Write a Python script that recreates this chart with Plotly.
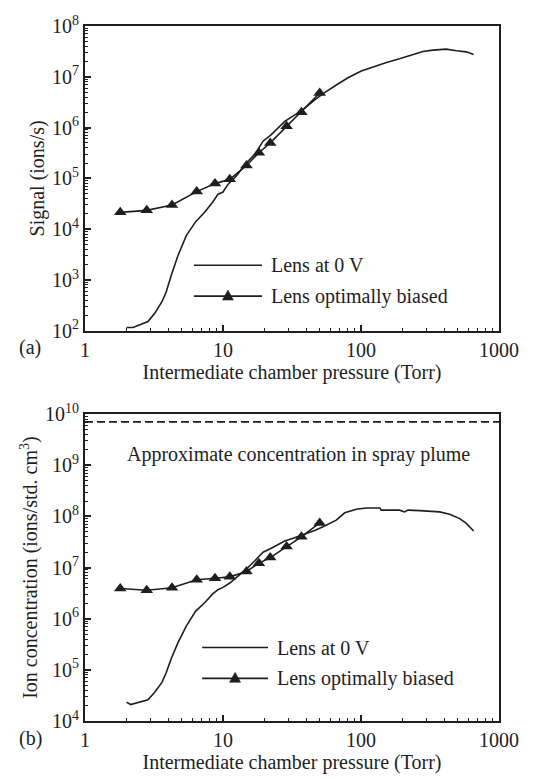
import plotly.graph_objects as go

# ---------------- data ----------------
# Panel (a): Signal (ions/s)
a0_x = [2.0, 2.23, 2.86, 3.2, 3.61, 3.88, 4.22, 4.72, 5.42, 6.34, 7.36, 8.46, 9.2, 10.0, 10.9,
        12.5, 14.8, 17.0, 19.5, 22.4, 28.0, 32.2, 38.0, 46.2, 54.5, 66.2, 80.5, 100.5, 122,
        153, 190, 238, 281, 332, 415, 491, 580, 655]
a0_y = [116, 116, 152, 221, 374, 587, 1240, 3050, 7500, 1.41e4, 2.15e4, 3.47e4, 4.9e4, 5.4e4,
        7.7e4, 1.12e5, 2.04e5, 2.97e5, 5.4e5, 7.3e5, 1.33e6, 1.72e6, 2.25e6, 3.53e6, 4.9e6,
        6.9e6, 9.6e6, 1.3e7, 1.58e7, 1.92e7, 2.26e7, 2.75e7, 3.15e7, 3.35e7, 3.5e7, 3.25e7,
        3.1e7, 2.75e7]

bias_x = [1.80, 2.80, 4.27, 6.45, 8.75, 11.2, 14.8, 18.2, 22.0, 28.9, 37.0, 50.2]
a_bias_y = [2.15e4, 2.35e4, 3.0e4, 5.5e4, 7.9e4, 9.6e4, 1.8e5, 3.2e5, 5.0e5, 1.06e6, 2.0e6, 4.8e6]

# Panel (b): Ion concentration (ions/std. cm3)
b0_x = [2.0, 2.14, 2.86, 3.2, 3.61, 3.88, 4.22, 4.72, 5.42, 6.34, 7.36, 8.46, 9.2, 10.0, 11.2,
        12.7, 14.8, 17.0, 19.5, 22.4, 28.0, 32.2, 38.0, 46.2, 54.5, 66.2, 76.2, 92.5, 109,
        137, 140, 190, 207, 219, 266, 371, 439, 519, 580, 655]
b0_y = [2.34e4, 2.1e4, 2.6e4, 3.66e4, 5.7e4, 8.9e4, 1.67e5, 3.42e5, 7.2e5, 1.41e6, 2.05e6,
        3.1e6, 3.7e6, 4.1e6, 5.0e6, 6.7e6, 9.4e6, 1.36e7, 2.0e7, 2.4e7, 3.3e7, 3.74e7, 4.35e7,
        5.3e7, 6.5e7, 8.5e7, 1.18e8, 1.39e8, 1.47e8, 1.47e8, 1.33e8, 1.33e8, 1.23e8, 1.33e8,
        1.30e8, 1.23e8, 1.11e8, 9.1e7, 7.3e7, 5.2e7]
b_bias_y = [3.9e6, 3.6e6, 4.05e6, 5.8e6, 6.2e6, 6.6e6, 8.4e6, 1.22e7, 1.57e7, 2.58e7, 4.0e7, 7.5e7]

plume_x = [1, 1000]
plume_y = [7.1e9, 7.1e9]

x_tickvals = [1, 10, 100, 1000]
x_ticktext = ["1", "10", "100", "1000"]
a_tickvals = [1e2, 1e3, 1e4, 1e5, 1e6, 1e7, 1e8]
a_ticktext = ["10<sup>2</sup>", "10<sup>3</sup>", "10<sup>4</sup>", "10<sup>5</sup>",
              "10<sup>6</sup>", "10<sup>7</sup>", "10<sup>8</sup>"]
b_tickvals = [1e4, 1e5, 1e6, 1e7, 1e8, 1e9, 1e10]
b_ticktext = ["10<sup>4</sup>", "10<sup>5</sup>", "10<sup>6</sup>", "10<sup>7</sup>",
              "10<sup>8</sup>", "10<sup>9</sup>", "10<sup>10</sup>"]

legend_labels = ["Lens at 0 V", "Lens optimally biased"]


def minor_ticks(lo_exp, hi_exp):
    return [m * 10 ** e for e in range(lo_exp, hi_exp) for m in range(2, 10)]


# ---------------- styling ----------------
INK = "#1e1e1e"
FONT = "Liberation Serif, Times New Roman, serif"
LW = 1.6

fig = go.Figure()

# Panel (a)
fig.add_trace(go.Scatter(x=a0_x, y=a0_y, mode="lines", line=dict(color=INK, width=LW),
                         xaxis="x", yaxis="y", showlegend=False))
fig.add_trace(go.Scatter(x=bias_x, y=a_bias_y, mode="lines+markers",
                         line=dict(color=INK, width=LW),
                         marker=dict(symbol="triangle-up", size=11, color=INK),
                         xaxis="x", yaxis="y", showlegend=False))
# Panel (b)
fig.add_trace(go.Scatter(x=plume_x, y=plume_y, mode="lines",
                         line=dict(color=INK, width=LW, dash="8px,4px"),
                         xaxis="x2", yaxis="y2", showlegend=False))
fig.add_trace(go.Scatter(x=b0_x, y=b0_y, mode="lines", line=dict(color=INK, width=LW),
                         xaxis="x2", yaxis="y2", showlegend=False))
fig.add_trace(go.Scatter(x=bias_x, y=b_bias_y, mode="lines+markers",
                         line=dict(color=INK, width=LW),
                         marker=dict(symbol="triangle-up", size=11, color=INK),
                         xaxis="x2", yaxis="y2", showlegend=False))


def axis_common(lo, hi):
    return dict(
        type="log", showgrid=False, zeroline=False,
        showline=True, linecolor=INK, linewidth=1.8, mirror=True,
        ticks="inside", ticklen=6, tickwidth=1.6, tickcolor=INK,
        tickfont=dict(family=FONT, size=20, color=INK),
        minor=dict(ticks="inside", ticklen=3, tickwidth=1.1, tickcolor=INK, showgrid=False,
                   tickmode="array", tickvals=minor_ticks(lo, hi)),
    )


title_font = dict(family=FONT, size=20, color=INK)

fig.update_layout(
    width=547, height=781,
    paper_bgcolor="white", plot_bgcolor="white",
    font=dict(family=FONT, size=20, color=INK),
    margin=dict(l=85, r=48, t=26, b=55),
    showlegend=False,
    xaxis=dict(axis_common(0, 3), range=[0, 3], domain=[0, 1], anchor="y",
               tickvals=x_tickvals, ticktext=x_ticktext,
               title=dict(text="Intermediate chamber pressure (Torr)", font=title_font, standoff=4)),
    yaxis=dict(axis_common(2, 8), range=[2, 8], domain=[0.5614, 1.0], anchor="x",
               tickvals=a_tickvals, ticktext=a_ticktext,
               title=dict(text="Signal (ions/s)", font=title_font, standoff=2)),
    xaxis2=dict(axis_common(0, 3), range=[0, 3], domain=[0, 1], anchor="y2",
                tickvals=x_tickvals, ticktext=x_ticktext,
                title=dict(text="Intermediate chamber pressure (Torr)", font=title_font, standoff=4)),
    yaxis2=dict(axis_common(4, 10), range=[4, 10], domain=[0, 0.4414], anchor="x2",
                tickvals=b_tickvals, ticktext=b_ticktext,
                title=dict(text="Ion concentration (ions/std. cm<sup>3</sup>)", font=title_font, standoff=2)),
)

annotations = []
shapes = []


# custom legends (drawn inside each panel)
def add_legend(xr, yr, x0, x1, xt, yrows):
    for i, (lab, yy) in enumerate(zip(legend_labels, yrows)):
        shapes.append(dict(type="line", xref=xr + " domain", yref=yr + " domain",
                           x0=x0, x1=x1, y0=yy, y1=yy, line=dict(color=INK, width=LW)))
        annotations.append(dict(text=lab, xref=xr + " domain", yref=yr + " domain",
                                x=xt, y=yy, xanchor="left", yanchor="middle", showarrow=False,
                                font=dict(family=FONT, size=20, color=INK)))
        if i == 1:
            shapes.append(dict(type="path", xref=xr + " domain", yref=yr + " domain",
                               xsizemode="pixel", ysizemode="pixel",
                               xanchor=(x0 + x1) / 2, yanchor=yy,
                               path="M -5.5,-4 L 5.5,-4 L 0,6 Z",
                               fillcolor=INK, line=dict(color=INK, width=0.5)))


add_legend("x", "y", 0.263, 0.4275, 0.445, [0.215, 0.114])
add_legend("x2", "y2", 0.283, 0.442, 0.459, [0.2395, 0.139])

annotations.append(dict(text="Approximate concentration in spray plume", xref="x2 domain",
                        yref="y2 domain", x=0.516, y=0.868, xanchor="center", yanchor="middle",
                        showarrow=False, font=dict(family=FONT, size=20, color=INK)))

annotations.append(dict(text="(a)", xref="paper", yref="paper", x=-0.165, y=0.538,
                        xanchor="left", yanchor="middle", showarrow=False,
                        font=dict(family=FONT, size=20, color=INK)))
annotations.append(dict(text="(b)", xref="paper", yref="paper", x=-0.165, y=-0.025,
                        xanchor="left", yanchor="middle", showarrow=False,
                        font=dict(family=FONT, size=20, color=INK)))

fig.update_layout(annotations=annotations, shapes=shapes)

fig.write_html("out.html", config={"displayModeBar": False},
               post_script="document.body.style.margin='0px';document.body.style.overflow='hidden';")
